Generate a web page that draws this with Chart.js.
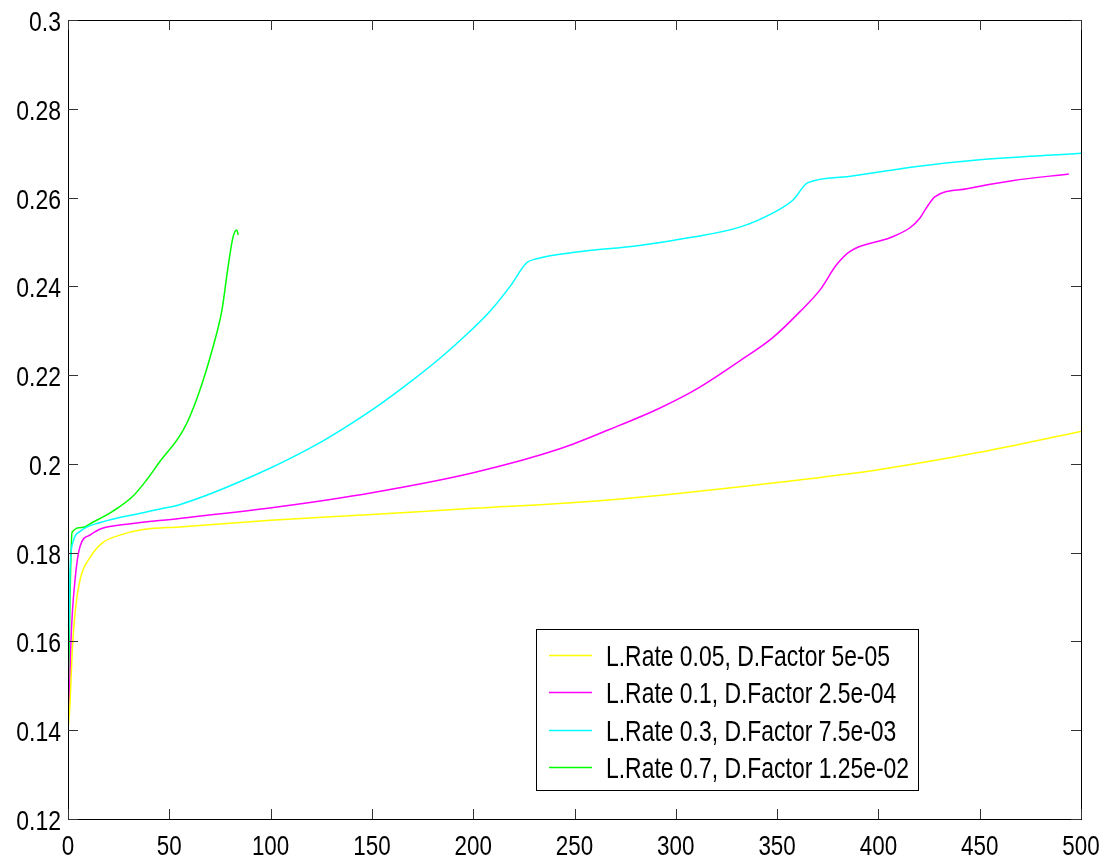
<!DOCTYPE html>
<html>
<head>
<meta charset="utf-8">
<script src="https://cdn.jsdelivr.net/npm/chart.js@4.4.1/dist/chart.umd.min.js"></script>
<style>
  html, body { margin: 0; padding: 0; background: #fff; }
  #wrap { width: 1120px; height: 863px; }
</style>
</head>
<body>
<div id="wrap"><canvas id="chart"></canvas></div>
<script>
// tick values
const xTicks = [0, 50, 100, 150, 200, 250, 300, 350, 400, 450, 500];
const yTicks = [0.12, 0.14, 0.16, 0.18, 0.2, 0.22, 0.24, 0.26, 0.28, 0.3];
const xTickLabels = ['0', '50', '100', '150', '200', '250', '300', '350', '400', '450', '500'];
const yTickLabels = ['0.12', '0.14', '0.16', '0.18', '0.2', '0.22', '0.24', '0.26', '0.28', '0.3'];

// series (epoch, value)
const yellowX = [0, 1, 2, 3.5, 6, 11, 17, 26, 37, 55, 100, 150, 200, 250, 300, 350, 400, 450, 500];
const yellowY = [0.140, 0.146, 0.157, 0.1665, 0.174, 0.179, 0.1822, 0.184, 0.1852, 0.1858, 0.1873, 0.1886, 0.190, 0.1913, 0.1933, 0.1958, 0.1987, 0.2026, 0.2073];

const magentaX = [0, 1, 1.5, 3.5, 6, 11, 17, 29, 55, 105, 150, 200, 242.8, 267.5, 292.2, 311.9, 331.6, 348, 361.3, 371.2, 379.4, 386, 406, 415.6, 420.5, 424, 428, 443.7, 466, 494];
const magentaY = [0.142, 0.152, 0.1605, 0.174, 0.1815, 0.184, 0.1855, 0.1864, 0.1877, 0.1904, 0.1935, 0.198, 0.2034, 0.2078, 0.2126, 0.2173, 0.2232, 0.2285, 0.2343, 0.2392, 0.2449, 0.2479, 0.251, 0.2532, 0.2554, 0.2579, 0.2602, 0.262, 0.2638, 0.2653];

const cyanX = [0, 1, 2.6, 6, 16, 37, 45, 55, 94.8, 124.4, 139.2, 154, 168.8, 183.6, 193.5, 208.3, 218.2, 226.4, 231.3, 249, 282, 307, 332, 351, 358, 365, 384.5, 417, 450, 500];
const cyanY = [0.150, 0.176, 0.1826, 0.1848, 0.1868, 0.189, 0.1898, 0.1908, 0.198, 0.2048, 0.2089, 0.2134, 0.2184, 0.2238, 0.2278, 0.2344, 0.240, 0.2453, 0.2462, 0.2476, 0.2492, 0.251, 0.2534, 0.2573, 0.2595, 0.2633, 0.2647, 0.2669, 0.2685, 0.270];

const greenX = [0, 1, 2, 7, 12, 22, 32, 39, 45, 57, 64, 71.6, 76, 79, 81.5, 83.3, 84];
const greenY = [0.140, 0.170, 0.1846, 0.1857, 0.1868, 0.1893, 0.1927, 0.1965, 0.2003, 0.2077, 0.2152, 0.2264, 0.2347, 0.2444, 0.2512, 0.2527, 0.2516];

const seriesLabels = [
    'L.Rate 0.05, D.Factor 5e-05',
    'L.Rate 0.1, D.Factor 2.5e-04',
    'L.Rate 0.3, D.Factor 7.5e-03',
    'L.Rate 0.7, D.Factor 1.25e-02'
];
const seriesColors = ['#ffff00', '#ff00ff', '#00ffff', '#00ff00'];

const FONT = '"Liberation Sans", Arial, sans-serif';

function toPoints(xs, ys) {
    return xs.map((x, i) => ({ x: x, y: ys[i] }));
}

function makeSet(i, xs, ys) {
    return {
        label: seriesLabels[i],
        data: toPoints(xs, ys),
        borderColor: seriesColors[i],
        borderWidth: 1.5,
        pointRadius: 0,
        fill: false,
        cubicInterpolationMode: 'monotone'
    };
}

// narrow text: the original font is a condensed Helvetica
function narrowText(ctx, text, x, y, sx, align) {
    ctx.save();
    ctx.translate(x, y);
    ctx.scale(sx, 1);
    ctx.textAlign = align;
    ctx.fillText(text, 0, 0);
    ctx.restore();
}

// box, inward ticks, tick labels and legend
const boxPlugin = {
    id: 'boxPlugin',
    afterDraw(chart) {
        const ctx = chart.ctx;
        const a = chart.chartArea;
        const xs = chart.scales.x;
        const ys = chart.scales.y;
        const tl = 10;

        ctx.save();
        ctx.strokeStyle = '#000';
        ctx.lineWidth = 1;
        ctx.strokeRect(Math.round(a.left) + 0.5, Math.round(a.top) + 0.5,
            Math.round(a.right - a.left), Math.round(a.bottom - a.top));

        ctx.strokeStyle = '#333';
        ctx.beginPath();
        xTicks.forEach(v => {
            const px = Math.round(xs.getPixelForValue(v)) + 0.5;
            ctx.moveTo(px, a.bottom); ctx.lineTo(px, a.bottom - tl);
            ctx.moveTo(px, a.top); ctx.lineTo(px, a.top + tl);
        });
        yTicks.forEach(v => {
            const py = Math.round(ys.getPixelForValue(v)) + 0.5;
            ctx.moveTo(a.left, py); ctx.lineTo(a.left + tl, py);
            ctx.moveTo(a.right, py); ctx.lineTo(a.right - tl, py);
        });
        ctx.stroke();

        // tick labels
        ctx.fillStyle = '#000';
        ctx.font = '28px ' + FONT;
        ctx.textBaseline = 'alphabetic';
        xTicks.forEach((v, i) => {
            narrowText(ctx, xTickLabels[i], xs.getPixelForValue(v), a.bottom + 36, 0.8, 'center');
        });
        yTicks.forEach((v, i) => {
            narrowText(ctx, yTickLabels[i], a.left - 7, ys.getPixelForValue(v) + 11, 0.82, 'right');
        });

        // legend
        const lx = 536, ly = 629, lw = 382, lh = 161;
        ctx.fillStyle = '#fff';
        ctx.fillRect(lx, ly, lw, lh);
        ctx.strokeStyle = '#000';
        ctx.strokeRect(lx + 0.5, ly + 0.5, lw, lh);
        ctx.font = '29px ' + FONT;
        seriesLabels.forEach((t, i) => {
            const y = 655 + i * 37.3;
            ctx.strokeStyle = seriesColors[i];
            ctx.lineWidth = 1.5;
            ctx.beginPath();
            ctx.moveTo(549, Math.round(y) + 0.5);
            ctx.lineTo(592, Math.round(y) + 0.5);
            ctx.stroke();
            ctx.fillStyle = '#000';
            narrowText(ctx, t, 606, y + 11, 0.79, 'left');
        });
        ctx.restore();
    }
};

new Chart(document.getElementById('chart'), {
    type: 'line',
    data: {
        datasets: [
            makeSet(0, yellowX, yellowY),
            makeSet(1, magentaX, magentaY),
            makeSet(2, cyanX, cyanY),
            makeSet(3, greenX, greenY)
        ]
    },
    options: {
        responsive: true,
        maintainAspectRatio: false,
        animation: false,
        layout: { padding: { top: 20, right: 39, left: 0, bottom: 0 } },
        plugins: {
            legend: { display: false },
            tooltip: { enabled: false }
        },
        scales: {
            x: {
                type: 'linear',
                min: 0,
                max: 500,
                afterBuildTicks: s => { s.ticks = xTicks.map(v => ({ value: v })); },
                afterFit: s => { s.height = 44; },
                grid: { display: false, drawTicks: false },
                border: { display: false },
                ticks: { display: false }
            },
            y: {
                type: 'linear',
                min: 0.12,
                max: 0.3,
                afterBuildTicks: s => { s.ticks = yTicks.map(v => ({ value: v })); },
                afterFit: s => { s.width = 68; },
                grid: { display: false, drawTicks: false },
                border: { display: false },
                ticks: { display: false }
            }
        }
    },
    plugins: [boxPlugin]
});
</script>
</body>
</html>
